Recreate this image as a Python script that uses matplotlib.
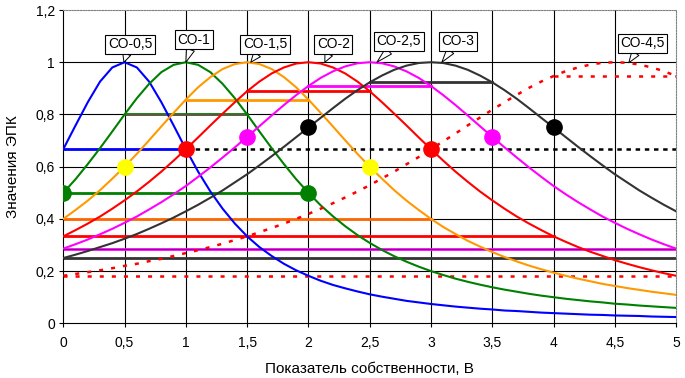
import matplotlib
matplotlib.use("Agg")
import matplotlib.pyplot as plt
import numpy as np

plt.rcParams['font.family'] = ['Liberation Sans', 'DejaVu Sans']
plt.rcParams['lines.scale_dashes'] = False

# X axis: "Показатель собственности, B", 0..5 step 0.1
B = [round(i * 0.1, 1) for i in range(51)]

co_05 = [.667,.758,.847,.926,.980,1,.980,.926,.847,.758,.667,.581,.505,.439,.382,.333,.292,.258,.228,.203,
         .182,.163,.147,.134,.122,.111,.102,.094,.086,.080,.074,.069,.064,.060,.056,.053,.049,.047,.044,.041,
         .039,.037,.035,.033,.032,.030,.029,.028,.026,.025,.024]
co_1 = [.5,.552,.610,.671,.735,.8,.862,.917,.962,.990,1,.990,.962,.917,.862,.8,.735,.671,.610,.552,
        .5,.452,.410,.372,.338,.308,.281,.257,.236,.217,.2,.185,.171,.159,.148,.138,.129,.121,.113,.106,
        .1,.094,.089,.084,.080,.075,.072,.068,.065,.062,.059]
co_15 = [.4,.434,.470,.510,.554,.6,.649,.701,.754,.806,.857,.904,.943,.974,.993,1,.993,.974,.943,.904,
         .857,.806,.754,.701,.649,.6,.554,.510,.470,.434,.4,.369,.342,.316,.294,.273,.254,.237,.221,.207,
         .194,.182,.171,.161,.151,.143,.135,.128,.121,.115,.109]
co_2 = [.333,.357,.382,.409,.439,.471,.505,.542,.581,.623,.667,.712,.758,.803,.847,.889,.926,.957,.980,.995,
        1,.995,.980,.957,.926,.889,.847,.803,.758,.712,.667,.623,.581,.542,.505,.471,.439,.409,.382,.357,
        .333,.312,.292,.274,.258,.242,.228,.215,.203,.192,.182]
co_25 = [.286,.303,.321,.341,.362,.385,.409,.436,.464,.494,.526,.561,.597,.635,.674,.714,.755,.796,.836,.874,
         .909,.940,.965,.984,.996,1,.996,.984,.965,.940,.909,.874,.836,.796,.755,.714,.674,.635,.597,.561,
         .526,.494,.464,.436,.409,.385,.362,.341,.321,.303,.286]
co_3 = [.25,.263,.277,.292,.307,.324,.342,.362,.383,.405,.429,.454,.481,.509,.540,.571,.605,.640,.676,.713,
        .75,.787,.824,.860,.893,.923,.949,.971,.987,.997,1,.997,.987,.971,.949,.923,.893,.860,.824,.787,
        .75,.713,.676,.640,.605,.571,.540,.509,.481,.454,.429]
co_45 = [.182,.189,.196,.203,.211,.220,.228,.238,.247,.258,.269,.280,.292,.305,.319,.333,.349,.365,.382,.400,
         .419,.439,.460,.482,.505,.529,.555,.581,.609,.637,.667,.697,.727,.758,.788,.818,.847,.875,.902,.926,
         .947,.966,.980,.991,.998,1,.998,.991,.980,.966,.947]

# Horizontal reference segments: level, x-start, x-end
h_levels = [0.667, 0.5, 0.8, 0.857, 0.889, 0.909, 0.923, 0.947, 0.4, 0.333, 0.286, 0.25, 0.182, 0.667]
h_start  = [0,     0,   0.5, 1,     1.5,   2,     2.5,   4,     0,   0,     0,     0,    0,     1]
h_end    = [1,     2,   1.5, 2,     2.5,   3,     3.5,   5,     3,   4,     5,     5,    5,     5]
h_colors = ['#0000FF', '#008000', '#008000', '#FF9900', '#FF0000', '#FF00FF', '#333333', '#FF0000',
            '#FF6600', '#FF0000', '#FF00FF', '#333333', '#FF0000', '#000000']
h_dashed = [False, False, False, False, False, False, False, True, False, False, False, False, True, True]

# Marker points
pt_x = [0, 2, 0.5, 2.5, 1, 3, 1.5, 3.5, 2, 4]
pt_y = [0.5, 0.5, 0.6, 0.6, 0.667, 0.667, 0.714, 0.714, 0.75, 0.75]
pt_c = ['#008000', '#008000', '#FFFF00', '#FFFF00', '#FF0000', '#FF0000', '#FF00FF', '#FF00FF', '#000000', '#000000']

labels = ['СО-0,5', 'СО-1', 'СО-1,5', 'СО-2', 'СО-2,5', 'СО-3', 'СО-4,5']
lab_tip = [(0.495, 1.0), (1.0, 1.0), (1.53, 1.0), (2.134, 1.0), (2.559, 1.0), (3.089, 1.0), (4.614, 0.998)]
lab_pos = [(0.544, 1.069), (1.066, 1.086), (1.645, 1.069), (2.204, 1.069), (2.738, 1.081), (3.219, 1.081), (4.724, 1.073)]

fig = plt.figure(figsize=(6.85, 3.78), dpi=100)
ax = fig.add_axes([0.0924, 0.1447, 0.987 - 0.0924, 0.9735 - 0.1447])
ax.set_xlim(0, 5)
ax.set_ylim(0, 1.2)

# grid
for gx in [0.5, 1, 1.5, 2, 2.5, 3, 3.5, 4, 4.5]:
    ax.axvline(gx, color='black', lw=0.8, zorder=1)
for gy in [0.2, 0.4, 0.6, 0.8, 1.0]:
    ax.axhline(gy, color='black', lw=0.8, zorder=1)

# horizontal segments
for lv, s, e, c, d in zip(h_levels, h_start, h_end, h_colors, h_dashed):
    if d:
        if c == '#000000':
            ax.plot([s, e], [lv, lv], color=c, lw=1.8, dashes=(3.2, 3.4), zorder=2)
        else:
            ax.plot([s, e], [lv, lv], color=c, lw=1.8, dashes=(2.9, 5.8), zorder=2)
    else:
        ax.plot([s, e], [lv, lv], color=c, lw=2.0, zorder=2)
ax.plot([0.5, 1.5], [0.8, 0.8], color='#993366', lw=0.8, zorder=2.1)
ax.plot([0, 5], [0.286, 0.286], color='#800080', lw=0.6, zorder=2.1)

# curves
series = [co_05, co_1, co_15, co_2, co_25, co_3]
colors = ['#0000FF', '#008000', '#FF9900', '#FF0000', '#FF00FF', '#333333']
for s, c in zip(series, colors):
    ax.plot(B, s, color=c, lw=1.5, zorder=3)
ax.plot(B, co_45, color='#FF0000', lw=1.8, dashes=(2.9, 5.8), zorder=3)

# markers
for x, y, c in zip(pt_x, pt_y, pt_c):
    ax.plot(x, y, 'o', ms=11, color=c, mec=c, zorder=5)

# callouts
for t, tip, pos in zip(labels, lab_tip, lab_pos):
    ax.annotate(t, xy=tip, xytext=pos, textcoords='data', ha='center', va='center', fontsize=10,
                bbox=dict(boxstyle='square,pad=0.18', fc='white', ec='black', lw=0.8),
                arrowprops=dict(arrowstyle='wedge,tail_width=0.6,shrink_factor=0.5', fc='white', ec='black',
                                lw=0.7, shrinkA=0, shrinkB=0),
                zorder=6, annotation_clip=False)

ax.set_xticks([0, 0.5, 1, 1.5, 2, 2.5, 3, 3.5, 4, 4.5, 5])
ax.set_xticklabels(['0', '0,5', '1', '1,5', '2', '2,5', '3', '3,5', '4', '4,5', '5'])
ax.set_yticks([0, 0.2, 0.4, 0.6, 0.8, 1.0, 1.2])
ax.set_yticklabels(['0', '0,2', '0,4', '0,6', '0,8', '1', '1,2'])
ax.tick_params(axis='both', direction='out', length=3, width=0.8, labelsize=10, colors='black')
ax.tick_params(axis='x', pad=6)
ax.tick_params(axis='y', pad=3)

ax.spines['left'].set_color('black')
ax.spines['bottom'].set_color('black')
ax.spines['left'].set_linewidth(0.8)
ax.spines['bottom'].set_linewidth(0.8)
for sp in ['top', 'right']:
    ax.spines[sp].set_color('#808080')
    ax.spines[sp].set_linestyle((0, (1, 1)))
    ax.spines[sp].set_linewidth(0.8)

ax.set_xlabel('Показатель собственности, B', fontsize=11, labelpad=9)
ax.set_ylabel('Значения ЭПК', fontsize=11, labelpad=11)

fig.savefig('out.png', dpi=100)
